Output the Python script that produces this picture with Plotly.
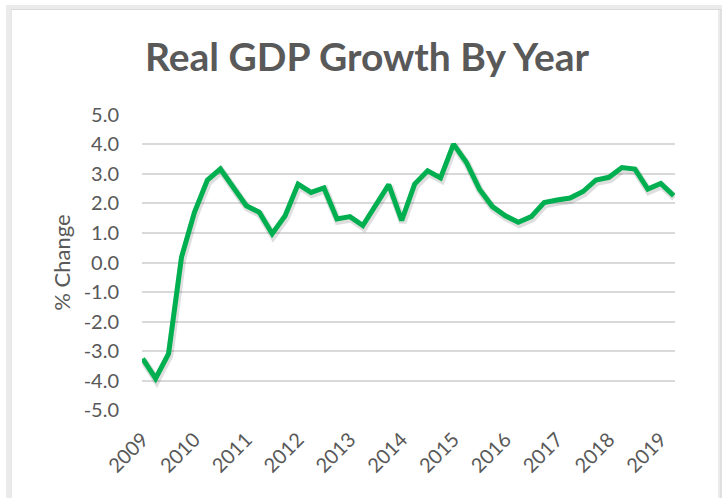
import plotly.graph_objects as go

# Real GDP growth, % change year over year, quarterly from 2009 Q1 to 2019 Q2
years = [2009, 2010, 2011, 2012, 2013, 2014, 2015, 2016, 2017, 2018, 2019]
quarters_per_year = 4
growth = [
    -3.25, -3.92, -3.08, 0.18,    # 2009
    1.70, 2.79, 3.16, 2.54,       # 2010
    1.92, 1.70, 0.97, 1.58,       # 2011
    2.65, 2.37, 2.52, 1.47,       # 2012
    1.55, 1.25, 1.96, 2.63,       # 2013
    1.42, 2.65, 3.10, 2.86,       # 2014
    4.00, 3.38, 2.48, 1.89,       # 2015
    1.58, 1.36, 1.55, 2.03,       # 2016
    2.11, 2.18, 2.40, 2.79,       # 2017
    2.88, 3.21, 3.16, 2.48,       # 2018
    2.67, 2.26,                   # 2019
]
y_ticks = [5.0, 4.0, 3.0, 2.0, 1.0, 0.0, -1.0, -2.0, -3.0, -4.0, -5.0]

x_idx = list(range(len(growth)))
tick_pos = [i * quarters_per_year for i in range(len(years))]

FONT = "Lato, 'Open Sans', sans-serif"
GREY = "#595959"
GREEN = "#00B050"

fig = go.Figure()

# soft drop shadow under the line
fig.add_trace(go.Scatter(
    x=[v + 0.08 for v in x_idx], y=[v - 0.07 for v in growth],
    mode="lines", line=dict(color="rgba(0,0,0,0.13)", width=7.5, shape="linear"),
    hoverinfo="skip", showlegend=False,
))
fig.add_trace(go.Scatter(
    x=x_idx, y=growth, mode="lines",
    line=dict(color=GREEN, width=5), showlegend=False,
))

fig.update_layout(
    width=723, height=498,
    margin=dict(l=142, r=48, t=114, b=87),
    paper_bgcolor="white", plot_bgcolor="white",
    font=dict(family=FONT, color=GREY),
    title=dict(
        text="<b>Real GDP Growth By Year</b>",
        font=dict(family=FONT, size=39, color=GREY),
        x=367 / 723, xanchor="center", xref="container",
        y=1 - 57 / 498, yanchor="middle", yref="container",
    ),
    xaxis=dict(
        range=[-0.05, 41.1], showgrid=False, zeroline=False, showline=False,
        tickmode="array", tickvals=tick_pos, ticktext=[str(y) for y in years],
        tickangle=-45, tickfont=dict(size=20, color=GREY),
        ticks="", ticklabelstandoff=12,
    ),
    yaxis=dict(
        range=[-5.02, 5.02], showgrid=True, gridcolor="#D9D9D9", gridwidth=1.5,
        zeroline=False, showline=False,
        tickmode="array", tickvals=y_ticks, ticktext=[f"{v:.1f}" for v in y_ticks],
        tickfont=dict(size=20, color=GREY), ticks="", ticklabelstandoff=22,
        title=dict(text="% Change", font=dict(size=22, color=GREY), standoff=6),
    ),
    shapes=[
        # faint shadow along the left/top edge of the chart frame
        dict(type="rect", xref="paper", yref="paper",
             x0=(8 - 142) / 533, x1=(720 - 142) / 533,
             y0=(87 - 497) / 297 + 0.0, y1=1 + (114 - 7) / 297,
             line=dict(color="rgba(0,0,0,0.08)", width=4), layer="below"),
        # chart frame
        dict(type="rect", xref="paper", yref="paper",
             x0=(11 - 142) / 533, x1=(721 - 142) / 533,
             y0=(87 - 496.5) / 297, y1=1 + (114 - 9.5) / 297,
             line=dict(color="#D9D9D9", width=1.2), fillcolor="rgba(0,0,0,0)",
             layer="below"),
    ],
)

fig.write_html("out.html")
